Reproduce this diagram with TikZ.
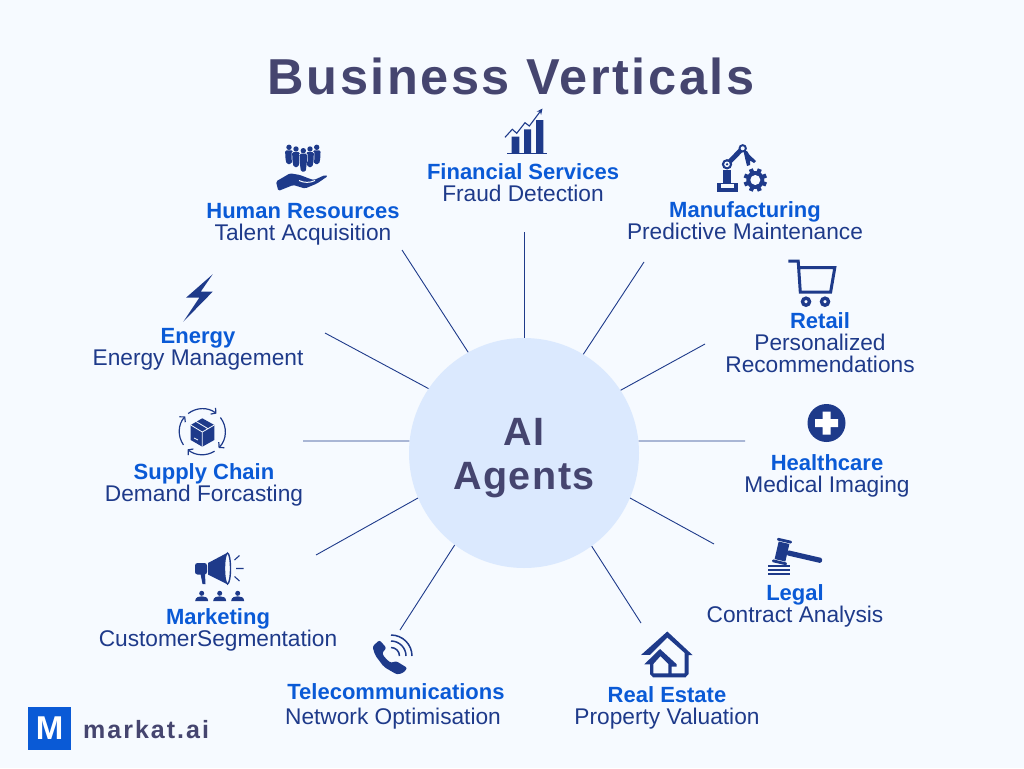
\documentclass[tikz,border=0pt]{standalone}
\usepackage{fontspec}
\setmainfont{Liberation Sans}
\usetikzlibrary{arrows.meta}
\definecolor{bgc}{HTML}{F6FAFF}
\definecolor{titlec}{HTML}{45456F}
\definecolor{headc}{HTML}{0A5AD6}
\definecolor{subc}{HTML}{1E3A8A}
\definecolor{hubc}{HTML}{DBE9FE}
\newfontfamily\titlefont[LetterSpace=5]{Liberation Sans Bold}
\newfontfamily\hubfont[LetterSpace=4]{Liberation Sans Bold}
\newfontfamily\logofont[LetterSpace=8]{Liberation Sans Bold}
\tikzset{
  hd/.style={anchor=base,inner sep=0pt,text=headc,font=\fontsize{22}{26}\selectfont\bfseries},
  sb/.style={anchor=base,inner sep=0pt,text=subc,font=\fontsize{22.7}{26}\selectfont},
  spoke/.style={draw=subc,line width=0.9pt},
  ic/.style={fill=subc,draw=none},
  icl/.style={draw=subc,fill=none},
}
\begin{document}
\begin{tikzpicture}[x=1pt,y=-1pt]
\useasboundingbox[fill=bgc] (0,0) rectangle (1024,768);
\node[anchor=base,inner sep=0pt,text=titlec,font=\fontsize{50.5}{60}\selectfont\titlefont] (title) at (511,94) {Business Verticals};
\node[circle,fill=hubc,minimum size=230pt,inner sep=0pt] (hub) at (524,453) {};
\node[anchor=base,inner sep=0pt,text=titlec,font=\fontsize{39.5}{46}\selectfont\hubfont] (hubA) at (524,445) {AI};
\node[anchor=base,inner sep=0pt,text=titlec,font=\fontsize{39.5}{46}\selectfont\hubfont] (hubB) at (524,489) {Agents};
% spokes
\coordinate (eFin) at (524,232);
\coordinate (eMan) at (644,262);
\coordinate (eRet) at (705,344);
\coordinate (eHea) at (745,441);
\coordinate (eLeg) at (714,544);
\coordinate (eRea) at (641,623);
\coordinate (eTel) at (400,630);
\coordinate (eMar) at (316,555);
\coordinate (eSup) at (303,441);
\coordinate (eEne) at (325,333);
\coordinate (eHum) at (402,250);
\draw[spoke] (hub.90) -- (eFin);
\draw[spoke] (hub.59.2) -- (eMan);
\draw[spoke] (hub.33.7) -- (eRet);
\draw[spoke] (hub.6) -- (eHea);
\draw[spoke] (hub.-23.5) -- (eLeg);
\draw[spoke] (hub.-54.2) -- (eRea);
\draw[spoke] (hub.233.5) -- (eTel);
\draw[spoke] (hub.203.5) -- (eMar);
\draw[spoke] (hub.174) -- (eSup);
\draw[spoke] (hub.146.3) -- (eEne);
\draw[spoke] (hub.119.4) -- (eHum);
% labels
\node[hd] (l1) at (523,179) {Financial Services};
\node[sb] (s1) at (523,201) {Fraud Detection};
\node[hd] (l2) at (303,218) {Human Resources};
\node[sb] (s2) at (303,240) {Talent Acquisition};
\node[hd] (l3) at (745,217) {Manufacturing};
\node[sb] (s3) at (745,239) {Predictive Maintenance};
\node[hd] (l4) at (820,328) {Retail};
\node[sb] (s4) at (820,350) {Personalized};
\node[sb] (s4b) at (820,372) {Recommendations};
\node[hd] (l5) at (198,343) {Energy};
\node[sb] (s5) at (198,365) {Energy Management};
\node[hd] (l6) at (827,470) {Healthcare};
\node[sb] (s6) at (827,492) {Medical Imaging};
\node[hd] (l7) at (204,479) {Supply Chain};
\node[sb] (s7) at (204,501) {Demand Forcasting};
\node[hd] (l8) at (795,600) {Legal};
\node[sb] (s8) at (795,622) {Contract Analysis};
\node[hd] (l9) at (218,624) {Marketing};
\node[sb] (s9) at (218,646) {CustomerSegmentation};
\node[hd] (l10) at (396,699) {Telecommunications};
\node[sb] (s10) at (393,724) {Network Optimisation};
\node[hd] (l11) at (667,702) {Real Estate};
\node[sb] (s11) at (667,724) {Property Valuation};
% logo
\node[fill=headc,minimum size=43pt,inner sep=0pt,text=white,font=\fontsize{33}{36}\selectfont\bfseries] (logo) at (49.5,728.5) {M};
\node[anchor=base west,inner sep=0pt,text=titlec,font=\fontsize{25}{30}\selectfont\logofont] (logot) at (83,738) {markat.ai};
% financial icon
\fill[ic] (511.7,136.7) rectangle (519.3,153.3) (524,129.3) rectangle (531,153.3) (536,120) rectangle (543.3,153.3);
\draw[icl,line width=1.2pt] (507,153.6) -- (546.7,153.6);
\draw[icl,line width=1.1pt,-{Stealth[length=6pt,width=5.5pt]}] (505,137.3) -- (512.3,129.3) -- (516.7,133.3) -- (525,122.7) -- (529.3,126) -- (542.5,108.5);
% HR icon
\foreach \x/\y/\t in {289/147.3/164,316.7/147.3/164,296/149/167,310/149/167,303.3/150.7/171.7}{
  \fill[bgc,rounded corners=1.5pt] (\x-4.3,\y+2.2) rectangle (\x+4.3,\y+12);
  \fill[ic] (\x,\y) circle (2.7pt);
  \fill[ic,rounded corners=1.5pt] (\x-3.9,\y+3) -- (\x+3.9,\y+3) -- (\x+3.5,\y+12) -- (\x+2.4,\t) -- (\x-2.4,\t) -- (\x-3.5,\y+12) -- cycle;
}
\fill[ic,rounded corners=1.5pt] (276,181.5) -- (290,173.3) -- (300,175) -- (309,178.5) -- (314,180) -- (325,175) -- (328,176) -- (317,183.5) -- (305,188.5) -- (293.3,185) -- (278.3,191) -- cycle;
\draw[bgc,line width=1pt] (299,180.5) .. controls (304,183) and (310,183) .. (315,180.5);
% manufacturing icon
\fill[ic] (717,182.7) rectangle (738,191.7);
\fill[bgc] (721.3,183.6) rectangle (733.7,187.6);
\fill[ic] (723,170) rectangle (731.3,182.7);
\draw[subc,line width=4.8pt] (727,164.3) -- (742.7,148.3);
\fill[ic] (727,164.3) circle (5.2pt);
\fill[bgc] (727,164.3) circle (2.8pt);
\fill[ic] (727,164.3) circle (1.3pt);
\fill[ic] (742.7,148.3) circle (4.2pt);
\fill[bgc] (742.7,148.3) circle (2pt);
\fill[ic] (743.5,151) -- (747,151) -- (749.5,155) -- (756,161) -- (754,163) -- (750,160.5) -- (750,165) -- (747,166) -- (745.5,160) -- cycle;
\foreach \a in {0,45,...,315}{\draw[subc,line width=4.2pt] (755.3,180) ++(\a+22.5:6) -- ++(\a+22.5:5.8);}
\fill[ic] (755.3,180) circle (9pt);
\fill[bgc] (755.3,180) circle (5pt);
% retail icon
\draw[icl,line width=3pt,line join=miter] (788.3,261.2) -- (798.2,261.2) -- (800.3,292.2) -- (830.6,292.2) -- (834.8,267.7) -- (798.6,267.7);
\draw[icl,line width=3.4pt] (806,301.7) circle (3.5pt) (825,301.7) circle (3.5pt);
% healthcare icon
\fill[ic] (826.5,423) circle (19pt);
\fill[white] (822.5,411.5) rectangle (830.5,434.5) (815,419) rectangle (838,427);
% energy icon
\fill[ic] (212.7,274.3) -- (186,297.7) -- (199.3,297.7) -- (183.3,321.7) -- (212.7,291.7) -- (200.7,291.7) -- cycle;
% supply chain icon
\foreach \s/\e in {-128/-52,-38/45,58/130,145/222}{
  \draw[icl,line width=1.2pt,-{Straight Barb[length=3.5pt,width=8pt]}] ([shift={(\s:23)}]202.3,431.7) arc[start angle=\s,end angle=\e,radius=23];
}
\fill[ic] (202.3,418.3) -- (214.3,425) -- (214.3,440) -- (202.3,446.7) -- (190.7,440) -- (190.7,425) -- cycle;
\draw[bgc,line width=0.8pt] (190.7,425) -- (202.3,432) -- (214.3,425) (202.3,432) -- (202.3,446.7) (196,421.5) -- (208,428.7);
\draw[bgc,line width=0.7pt] (194,438) -- (198,440);
% marketing icon
\fill[ic,rounded corners=2.5pt] (195,563) rectangle (207,574.5);
\fill[ic] (200.5,574) -- (205,574) -- (205.5,584) -- (202.5,584) -- cycle;
\fill[ic] (208,563) -- (226,553.5) -- (228,553.5) -- (228,583.5) -- (226,583.5) -- (208,574.5) -- cycle;
\draw[subc,line width=1.4pt,fill=bgc] (227.5,568.5) ellipse [x radius=3pt,y radius=15.5pt];
\draw[icl,line width=1.1pt] (234.5,560) -- (239.5,555.5) (236,568.5) -- (243.5,568.5) (234.5,576.5) -- (239.5,581);
\foreach \x in {201.7,219.7,237.7}{
  \fill[ic] (\x,593.3) circle (2.5pt);
  \fill[ic] (\x-6.5,601) .. controls (\x-6.3,597) and (\x-3,596.3) .. (\x,596.3) .. controls (\x+3,596.3) and (\x+6.3,597) .. (\x+6.5,601) -- cycle;
}
% telecom icon
\fill[ic,rounded corners=2.2pt] (379.5,640) -- (386.5,648) -- (382,653) -- (385,658) -- (391,663) -- (396,661) -- (407.5,668) -- (403,673) -- (397,674.5) -- (384,667) -- (375,655) -- (372.5,646.5) -- cycle;
\foreach \r in {8.5,15,21}{
  \draw[icl,line width=1.5pt] ([shift={(-90:\r)}]391,656) arc[start angle=-90,end angle=0,radius=\r];
}
% legal icon
\begin{scope}[shift={(782,551.5)},rotate=-13]
  \fill[ic] (-5.5,-9) rectangle (5.5,9);
  \fill[ic,rounded corners=1pt] (-7.5,-12.5) rectangle (7.5,-9.7) (-7.5,9.7) rectangle (7.5,12.5);
  \fill[ic,rounded corners=1.5pt] (5,-2.6) rectangle (41,2.6);
\end{scope}
\draw[icl,line width=1.8pt] (768.3,566) -- (790,566) (768.3,570) -- (790,570) (768.3,574) -- (790,574);
% real estate icon
\fill[ic,even odd rule] (667.3,631.5) -- (692.5,655) -- (688.5,655) -- (688.5,674) -- (685.5,677.3) -- (653,677.3) -- (650,674) -- (650,664.3) -- (644.3,664.3) -- (660,649) -- (676.7,664.3) -- (676.7,666.5) -- (671.7,666.5) -- (671.7,673.3) -- (684.7,673.3) -- (684.7,653) -- (667.3,637.5) -- (650,654.8) -- (641,655) -- cycle
  (653.3,673.3) -- (668.3,673.3) -- (668.3,664) -- (660.5,656) -- (653.3,664) -- cycle;
\end{tikzpicture}
\end{document}
